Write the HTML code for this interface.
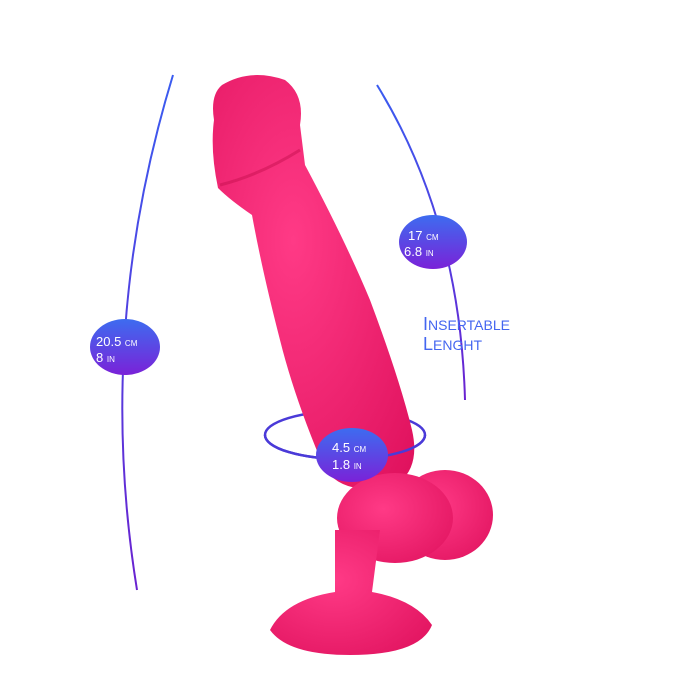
<!DOCTYPE html>
<html><head><style>
html,body{margin:0;padding:0;background:#fff;}
svg{display:block;}
text{font-family:"Liberation Sans",sans-serif;}
</style></head><body>
<svg width="700" height="700" viewBox="0 0 700 700" xmlns="http://www.w3.org/2000/svg">
<defs>
<linearGradient id="g" x1="0" y1="0" x2="0" y2="1">
<stop offset="0" stop-color="#3d6cf0"/><stop offset="1" stop-color="#7a22d8"/>
</linearGradient>
<linearGradient id="ln" x1="0" y1="0" x2="0" y2="1">
<stop offset="0" stop-color="#3a5cf0"/><stop offset="1" stop-color="#6a22d0"/>
</linearGradient>
<radialGradient id="p" cx="0.4" cy="0.4" r="0.8">
<stop offset="0" stop-color="#ff3a86"/><stop offset="1" stop-color="#e0125e"/>
</radialGradient>
</defs>
<path d="M173,75 Q95,330 137,590" fill="none" stroke="url(#ln)" stroke-width="2"/>
<path d="M377,85 Q460,220 465,400" fill="none" stroke="url(#ln)" stroke-width="2"/>
<ellipse cx="345" cy="435" rx="80" ry="24" fill="none" stroke="#4a3ad8" stroke-width="2.5"/>
<g fill="url(#p)">
<path d="M222,85 Q250,68 285,80 Q305,95 300,125 L305,165 Q345,240 370,300 Q400,380 412,430 Q420,465 400,482 Q350,500 325,470 Q295,400 280,340 Q262,270 252,215 Q230,200 218,188 Q210,150 214,120 Q210,95 222,85Z"/>
<ellipse cx="445" cy="515" rx="48" ry="45"/>
<ellipse cx="395" cy="518" rx="58" ry="45"/>
<path d="M335,530 L380,530 L372,592 Q415,600 432,625 Q420,655 350,655 Q288,655 270,630 Q285,600 335,592Z"/>
</g>
<path d="M220,185 Q260,175 300,150" fill="none" stroke="#c8104f" stroke-width="3" opacity="0.5"/>
<path d="M265,435 A80,24 0 0,0 425,435" fill="none" stroke="#4a3ad8" stroke-width="2.5"/>
<ellipse cx="125" cy="347" rx="35" ry="28" fill="url(#g)"/>
<text x="96" y="346" fill="#fff" font-size="13">20.5 <tspan font-size="8">CM</tspan></text>
<text x="96" y="362" fill="#fff" font-size="13">8 <tspan font-size="8">IN</tspan></text>
<ellipse cx="433" cy="242" rx="34" ry="27" fill="url(#g)"/>
<text x="408" y="240" fill="#fff" font-size="13">17 <tspan font-size="8">CM</tspan></text>
<text x="404" y="256" fill="#fff" font-size="13">6.8 <tspan font-size="8">IN</tspan></text>
<ellipse cx="352" cy="455" rx="36" ry="27" fill="url(#g)"/>
<text x="332" y="452" fill="#fff" font-size="13">4.5 <tspan font-size="8">CM</tspan></text>
<text x="332" y="469" fill="#fff" font-size="13">1.8 <tspan font-size="8">IN</tspan></text>
<text x="423" y="330" fill="#4466f0" font-size="18">I<tspan font-size="14">NSERTABLE</tspan></text>
<text x="423" y="350" fill="#4466f0" font-size="18">L<tspan font-size="14">ENGHT</tspan></text>
</svg>
</body></html>
